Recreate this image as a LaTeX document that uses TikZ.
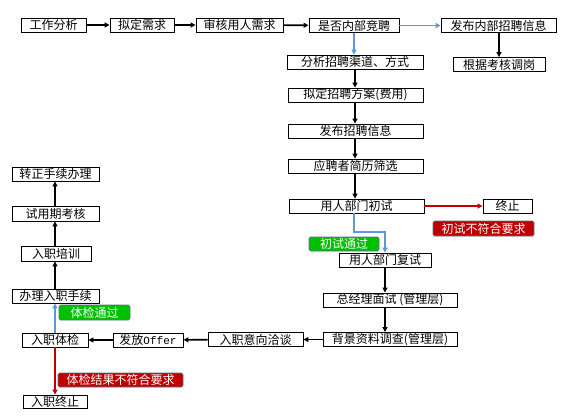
\documentclass[tikz,border=0pt]{standalone}
\usepackage{fontspec}
\newfontfamily\cjk{Noto Sans CJK SC}
\newfontfamily\monofnt{Liberation Mono}
\usetikzlibrary{arrows.meta}
\definecolor{lblue}{HTML}{5B9BD5}
\definecolor{dred}{HTML}{C00000}
\definecolor{lgreen}{HTML}{00C000}
\definecolor{tagedge}{HTML}{5A6E8C}
\begin{document}
\begin{tikzpicture}[x=1pt,y=-1pt,
  box/.style={draw=black,line width=0.9pt,fill=white,inner sep=0pt,minimum height=14pt,font=\cjk\fontsize{12}{13}\selectfont},
  tag/.style={draw=tagedge,line width=0.6pt,rounded corners=1.5pt,inner sep=0pt,minimum height=15pt,text=white,font=\cjk\fontsize{12}{13}\selectfont},
  blk/.style={line width=1.6pt,-{Triangle[length=5pt,width=5pt]}},
  blu/.style={draw=lblue,line width=1.6pt,-{Triangle[length=5pt,width=5pt]}},
  rdl/.style={draw=dred,line width=1.6pt,-{Triangle[length=5pt,width=5pt]}}]
\useasboundingbox (0,0) rectangle (561,417);
% top row
\node[box,minimum width=65pt] (a1) at (53.5,25) {工作分析};
\node[box,minimum width=64pt] (a2) at (142,25) {拟定需求};
\node[box,minimum width=87pt] (a3) at (239.5,25) {审核用人需求};
\node[box,minimum width=90pt] (a4) at (354,25.5) {是否内部竞聘};
\node[box,minimum width=115pt] (a5) at (498.5,25.5) {发布内部招聘信息};
\node[box,minimum width=92pt] (a6) at (499,64.5) {根据考核调岗};
% right column
\node[box,minimum width=136pt] (b1) at (355,62) {分析招聘渠道、方式};
\node[box,minimum width=135pt] (b2) at (355.5,95) {拟定招聘方案(费用)};
\node[box,minimum width=135pt] (b3) at (355.5,131) {发布招聘信息};
\node[box,minimum width=135pt] (b4) at (355.5,166) {应聘者简历筛选};
\node[box,minimum width=135pt] (b5) at (356.5,206) {用人部门初试};
\node[box,minimum width=49pt] (s1) at (507.5,206) {终止};
\node[tag,fill=dred,minimum width=101pt] (r1) at (483.5,228.5) {初试不符合要求};
\node[tag,fill=lgreen,minimum width=70pt,minimum height=14pt] (g1) at (344,244) {初试通过};
\node[box,minimum width=92pt] (b6) at (385,260) {用人部门复试};
\node[box,minimum width=134pt] (b7) at (390,300) {总经理面试 (管理层)};
\node[box,minimum width=134pt] (b8) at (390,339.5) {背景资料调查(管理层)};
% bottom row
\node[box,minimum width=95pt] (c1) at (255.5,339.5) {入职意向洽谈};
\node[box,minimum width=70pt] (c2) at (148,340) {发放{\monofnt\fontsize{11}{12}\selectfont Offer}};
\node[box,minimum width=66pt] (c3) at (55,340) {入职体检};
\node[box,minimum width=64pt,minimum height=13pt] (c4) at (55,401.5) {入职终止};
\node[tag,fill=dred,minimum width=125pt,minimum height=14pt] (r2) at (120.5,380) {体检结果不符合要求};
% left column
\node[box,minimum width=87pt] (d1) at (55.5,296) {办理入职手续};
\node[tag,fill=lgreen,minimum width=71pt] (g2) at (94.5,312.5) {体检通过};
\node[box,minimum width=70pt,minimum height=15pt] (d2) at (56,253.5) {入职培训};
\node[box,minimum width=87pt,minimum height=15pt] (d3) at (55.5,213.5) {试用期考核};
\node[box,minimum width=87pt] (d4) at (55.5,174) {转正手续办理};
% connectors
\draw[blk] (a1) -- (a2);
\draw[blk] (a2) -- (a3);
\draw[blk] (a3) -- (a4);
\draw[blu] (a4) -- (a5);
\draw[blu] (a4) -- (a4 |- b1.north);
\draw[blk] (a5.south -| a6) -- (a6);
\draw[blk] (b1.south -| 355,0) -- (355,0 |- b2.north);
\draw[blk] (b2.south -| 355,0) -- (355,0 |- b3.north);
\draw[blk] (b3.south -| 355,0) -- (355,0 |- b4.north);
\draw[blk] (b4.south -| 355,0) -- (355,0 |- b5.north);
\draw[rdl] (b5) -- (s1);
\coordinate (k1) at (354,232);
\coordinate (k2) at (385,232);
\draw[blu] (b5.south -| k1) -- (k1) -- (k2) -- (b6.north);
\draw[blk] (b6.south) -- (b6.south |- b7.north);
\draw[blk] (b6.south |- b7.south) -- (b6.south |- b8.north);
\draw[blk] (b8) -- (c1);
\draw[blk] (c1) -- (c2);
\draw[blk] (c2) -- (c3);
\draw[blu] (c3) -- (c3 |- d1.south);
\draw[rdl] (c3) -- (c4);
\draw[blk] (d1.north -| 55,0) -- (55,0 |- d2.south);
\draw[blk] (d2.north -| 55,0) -- (55,0 |- d3.south);
\draw[blk] (d3.north -| 55,0) -- (55,0 |- d4.south);
\end{tikzpicture}
\end{document}
